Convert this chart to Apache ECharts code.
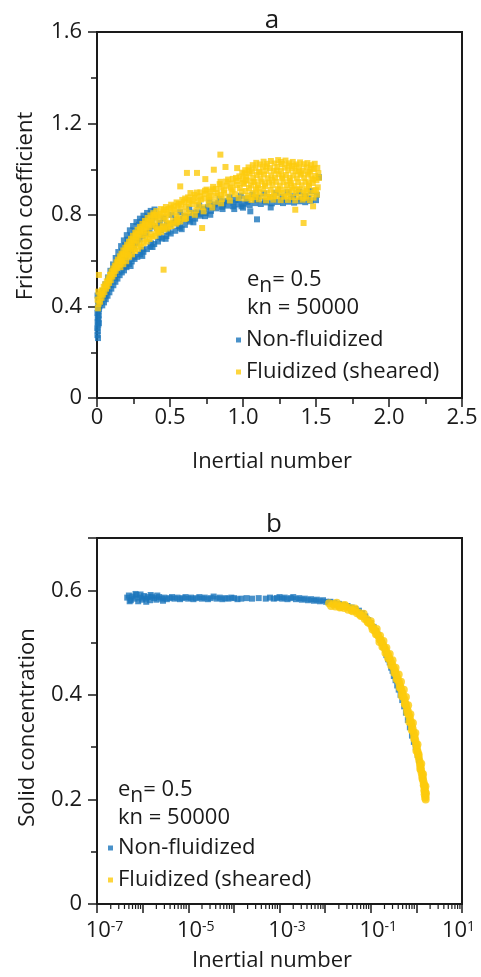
<!DOCTYPE html>
<html>
<head>
<meta charset="utf-8">
<script src="https://cdn.jsdelivr.net/npm/echarts@6/dist/echarts.min.js"></script>
<style>
html,body{margin:0;padding:0;background:#fff;}
#c{width:481px;height:977px;}
</style>
</head>
<body>
<div id="c"></div>
<script>
// ---------------- data ----------------
const seriesNames = ['Non-fluidized', 'Fluidized (sheared)'];
const seriesColors = ['#1b75bc', '#fccb0c'];

// panel a tick values
const frictionXTicks = [0, 0.5, 1.0, 1.5, 2.0, 2.5];
const frictionYTicks = [0, 0.4, 0.8, 1.2, 1.6];
// panel b tick values
const concYTicks = [0, 0.2, 0.4, 0.6];
const concXLabelExponents = [-7, -5, -3, -1, 1];
const minorLogTicks = [
  2e-7,3e-7,4e-7,5e-7,6e-7,7e-7,8e-7,9e-7,
  2e-6,3e-6,4e-6,5e-6,6e-6,7e-6,8e-6,9e-6,
  2e-5,3e-5,4e-5,5e-5,6e-5,7e-5,8e-5,9e-5,
  2e-4,3e-4,4e-4,5e-4,6e-4,7e-4,8e-4,9e-4,
  2e-3,3e-3,4e-3,5e-3,6e-3,7e-3,8e-3,9e-3,
  0.02,0.03,0.04,0.05,0.06,0.07,0.08,0.09,
  0.2,0.3,0.4,0.5,0.6,0.7,0.8,0.9,
  2,3,4,5,6,7,8,9
];

// panel a: friction coefficient vs inertial number
const frictionNonFluidized = [
  [0.003,0.275],[0.006,0.292],[0.002,0.305],[0.008,0.318],[0.004,0.331],[0.010,0.344],[0.005,0.352],[0.012,0.361],
  [0.003,0.372],[0.009,0.379],[0.014,0.388],[0.006,0.395],[0.017,0.401],[0.011,0.409],[0.021,0.415],[0.008,0.423],
  [0.025,0.428],[0.015,0.436],[0.030,0.442],[0.019,0.451],[0.004,0.448],[0.013,0.327],[0.007,0.262],
  [0.036,0.405],[0.048,0.418],[0.060,0.432],[0.072,0.447],[0.085,0.462],[0.098,0.478],[0.112,0.493],[0.126,0.508],
  [0.140,0.522],[0.155,0.537],[0.170,0.549],[0.185,0.558],[0.202,0.572],[0.220,0.586],[0.238,0.597],[0.257,0.608],
  [0.276,0.617],[0.296,0.628],[0.318,0.639],[0.342,0.651],[0.366,0.662],[0.392,0.673],[0.418,0.684],[0.446,0.697],
  [0.475,0.708],[0.505,0.719],[0.536,0.731],[0.568,0.744],[0.602,0.757],[0.637,0.771],[0.672,0.784],[0.708,0.797],
  [0.744,0.808],[0.781,0.818],[0.818,0.829],[0.856,0.836],[0.894,0.841],[0.932,0.838],[0.970,0.846],[1.008,0.849],
  [1.046,0.843],[1.084,0.852],[1.122,0.848],[1.160,0.855],[1.198,0.851],[1.236,0.857],[1.274,0.852],[1.312,0.858],
  [1.350,0.854],[1.388,0.860],[1.426,0.856],[1.464,0.862],[1.500,0.865],
  [1.096,0.781],[1.050,0.816],[0.776,0.801],[0.940,0.826],[1.190,0.833],[1.000,0.832],
  [0.042,0.468],[0.058,0.497],[0.075,0.527],[0.092,0.556],[0.110,0.584],[0.128,0.612],[0.146,0.638],[0.165,0.664],
  [0.184,0.689],[0.204,0.712],[0.225,0.733],[0.247,0.752],[0.270,0.769],[0.294,0.784],[0.318,0.797],[0.343,0.809],
  [0.368,0.818],[0.394,0.824],
  [0.060,0.460],[0.080,0.490],[0.100,0.523],[0.118,0.545],[0.135,0.570],[0.152,0.595],[0.168,0.613],[0.186,0.632],
  [0.205,0.651],[0.224,0.672],[0.244,0.690],[0.262,0.706],[0.282,0.726],[0.304,0.742],[0.326,0.755],[0.350,0.768],
  [0.374,0.778],[0.400,0.790],[0.430,0.765],[0.455,0.786],[0.480,0.760],[0.510,0.801],[0.540,0.779],[0.570,0.812],
  [0.600,0.796],[0.632,0.826],[0.665,0.810],[0.700,0.842],[0.735,0.827],[0.770,0.858],[0.805,0.846],[0.840,0.871],
  [0.875,0.860],[0.910,0.878],[0.948,0.866],[0.985,0.884],[1.025,0.872],[1.065,0.889],[1.105,0.876],[1.145,0.894],
  [1.185,0.878],[1.225,0.897],[1.265,0.880],[1.305,0.899],[1.345,0.882],[1.385,0.902],[1.425,0.884],[1.465,0.905],
  [1.505,0.888],[1.520,0.965],
  [0.21,0.692],[0.232,0.708],[0.258,0.731],[0.288,0.757],[0.308,0.771],[0.333,0.782],[0.357,0.793],[0.192,0.668],
  [0.171,0.641],[0.149,0.613],[0.131,0.588],[0.109,0.561],
  [0.052,0.445],[0.068,0.472],[0.088,0.505],[0.104,0.538],[0.122,0.531],[0.139,0.552],[0.158,0.573],[0.177,0.592],
  [0.196,0.611],[0.214,0.628],[0.233,0.645],[0.252,0.662],[0.272,0.678],[0.292,0.693],[0.313,0.709],[0.336,0.722],
  [0.36,0.738],[0.385,0.751],[0.41,0.743],[0.44,0.733],[0.47,0.747],[0.50,0.758],[0.53,0.766],[0.56,0.775],
  [0.59,0.783],[0.62,0.792],[0.655,0.797],[0.69,0.812],[0.725,0.818],[0.76,0.834],[0.795,0.835],[0.83,0.852],
  [0.865,0.848],[0.90,0.861],[0.935,0.853],[0.97,0.867],[1.03,0.858],[1.09,0.866],[1.15,0.862],[1.21,0.869],
  [1.27,0.866],[1.33,0.871],[1.40,0.869],[1.45,0.874],
  [0.23,0.577],[0.31,0.621],[0.38,0.660],[0.47,0.696],[0.58,0.738],[0.66,0.768],[0.74,0.795],[0.86,0.826],[0.99,0.838],
  [0.19,0.577],[0.25,0.618],[0.31,0.648],[0.37,0.676],[0.43,0.703],[0.49,0.727],[0.56,0.752],[0.63,0.780],[0.70,0.805]
];

const frictionFluidized = [
  [0.006,0.392],[0.011,0.412],[0.004,0.430],[0.016,0.448],[0.009,0.465],[0.021,0.421],[0.026,0.457],[0.013,0.538],
  [0.031,0.438],[0.035,0.471],[0.040,0.452],[0.046,0.486],[0.051,0.463],[0.056,0.497],[0.062,0.478],[0.067,0.510],
  [0.072,0.489],[0.078,0.524],[0.083,0.503],[0.089,0.538],[0.094,0.515],[0.100,0.553],[0.105,0.531],[0.111,0.566],
  [0.116,0.542],[0.122,0.579],[0.127,0.556],[0.133,0.593],[0.138,0.568],[0.144,0.605],[0.150,0.581],[0.156,0.619],
  [0.162,0.592],[0.168,0.631],[0.174,0.604],[0.180,0.645],[0.186,0.615],[0.193,0.657],[0.199,0.629],[0.206,0.670],
  [0.212,0.640],[0.219,0.683],[0.226,0.652],[0.233,0.696],[0.240,0.663],[0.247,0.709],[0.254,0.675],[0.262,0.722],
  [0.270,0.688],[0.278,0.735],[0.286,0.700],[0.294,0.748],[0.302,0.712],[0.311,0.761],[0.320,0.724],[0.329,0.774],
  [0.338,0.735],[0.347,0.787],[0.356,0.746],[0.366,0.798],[0.376,0.757],[0.386,0.808],[0.396,0.768],[0.406,0.817],
  [0.417,0.741],[0.428,0.779],[0.439,0.826],[0.450,0.752],[0.461,0.790],[0.472,0.835],[0.484,0.763],[0.496,0.801],
  [0.508,0.845],[0.520,0.774],[0.532,0.812],[0.545,0.855],[0.558,0.786],[0.571,0.824],[0.584,0.866],[0.597,0.797],
  [0.610,0.836],[0.624,0.877],[0.638,0.809],[0.652,0.848],[0.666,0.888],[0.680,0.821],[0.694,0.860],[0.708,0.899],
  [0.722,0.834],[0.736,0.872],[0.750,0.911],[0.765,0.846],[0.780,0.884],[0.795,0.923],[0.810,0.858],[0.825,0.896],
  [0.840,0.935],[0.855,0.870],[0.870,0.908],[0.885,0.946],[0.900,0.880],[0.915,0.920],[0.930,0.958],[0.945,0.891],
  [0.960,0.931],[0.975,0.969],[0.990,0.902],[1.000,0.941],[1.010,0.982],
  [0.142,0.585],[0.176,0.625],[0.208,0.655],[0.236,0.680],[0.266,0.705],[0.296,0.729],[0.326,0.752],[0.358,0.770],
  [0.390,0.790],[0.422,0.800],[0.455,0.812],[0.490,0.826],[0.525,0.838],[0.560,0.849],[0.595,0.858],[0.632,0.866],
  [0.668,0.875],[0.705,0.882],[0.742,0.893],[0.778,0.903],[0.815,0.914],[0.852,0.921],[0.888,0.928],[0.925,0.938],
  [0.962,0.949],[0.998,0.958],[0.612,0.815],[0.690,0.842],[0.770,0.866],[0.850,0.888],[0.930,0.912],[0.545,0.795],
  [0.470,0.780],[0.400,0.750],[0.340,0.715],
  [0.064,0.493],[0.082,0.515],[0.097,0.540],[0.114,0.555],[0.130,0.574],[0.147,0.596],[0.163,0.610],[0.181,0.628],
  [0.197,0.642],[0.215,0.661],[0.231,0.671],[0.249,0.690],[0.267,0.715],[0.283,0.718],[0.300,0.740],[0.318,0.742],
  [0.334,0.762],[0.352,0.758],[0.371,0.782],[0.392,0.800],[0.412,0.792],[0.435,0.805],[0.459,0.822],[0.478,0.808],
  [0.503,0.830],[0.528,0.824],[0.552,0.840],[0.578,0.846],[0.604,0.872],[0.628,0.852],[0.657,0.862],[0.684,0.898],
  [0.712,0.868],[0.740,0.906],[0.768,0.878],[0.792,0.912],[0.818,0.884],[0.846,0.945],[0.872,0.896],[0.898,0.955],
  [0.922,0.902],[0.952,0.962],[0.978,0.918],[0.995,0.985],
  [0.42,0.735],[0.49,0.748],[0.55,0.768],[0.61,0.786],[0.67,0.801],[0.73,0.816],[0.79,0.833],[0.85,0.851],
  [0.91,0.863],[0.97,0.874],
  [0.16,0.572],[0.18,0.585],[0.20,0.598],[0.22,0.617],[0.24,0.628],[0.26,0.643],[0.28,0.652],[0.30,0.662],
  [0.32,0.676],[0.34,0.684],[0.36,0.695],[0.38,0.705],[0.40,0.709],[0.42,0.722],[0.44,0.726],[0.46,0.737],
  [0.48,0.741],[0.51,0.752],[0.54,0.762],[0.57,0.772],[0.60,0.782],[0.17,0.598],[0.21,0.625],[0.25,0.652],
  [0.29,0.675],[0.33,0.697],[0.37,0.716],[0.41,0.731],[0.45,0.747],[0.50,0.764],[0.55,0.780],
  [0.845,1.064],[0.456,0.561],[0.616,0.984],[0.685,0.984],[0.742,0.957],[0.800,0.998],[1.358,0.823],[1.415,0.765],
  [1.480,0.838],[0.570,0.925],[0.640,0.896],[0.720,0.743],[0.880,1.010],[0.960,1.005],
  [1.012,0.872],[1.018,0.905],[1.008,0.936],[1.022,0.968],[1.015,0.996],
  [1.035,0.884],[1.041,0.918],[1.030,0.951],[1.046,0.982],[1.038,1.008],
  [1.058,0.866],[1.064,0.897],[1.055,0.929],[1.070,0.962],[1.061,0.991],[1.067,1.018],
  [1.083,0.878],[1.089,0.912],[1.078,0.944],[1.094,0.975],[1.085,1.004],[1.091,1.028],
  [1.108,0.868],[1.113,0.899],[1.102,0.931],[1.119,0.958],[1.110,0.989],[1.116,1.021],
  [1.133,0.881],[1.139,0.914],[1.128,0.946],[1.144,0.977],[1.136,1.009],[1.141,1.033],
  [1.158,0.864],[1.164,0.896],[1.152,0.927],[1.169,0.961],[1.160,0.993],[1.166,1.024],
  [1.183,0.879],[1.189,0.910],[1.178,0.942],[1.194,0.973],[1.185,1.005],[1.191,1.036],
  [1.208,0.867],[1.214,0.898],[1.202,0.930],[1.219,0.963],[1.210,0.994],[1.216,1.025],
  [1.233,0.882],[1.239,0.913],[1.228,0.945],[1.244,0.978],[1.236,1.010],[1.241,1.040],
  [1.258,0.865],[1.264,0.897],[1.252,0.929],[1.269,0.960],[1.260,0.992],[1.266,1.023],
  [1.283,0.880],[1.289,0.911],[1.278,0.943],[1.294,0.975],[1.285,1.007],[1.291,1.038],
  [1.308,0.866],[1.314,0.899],[1.302,0.931],[1.319,0.962],[1.310,0.995],[1.316,1.026],
  [1.333,0.878],[1.339,0.909],[1.328,0.941],[1.344,0.973],[1.336,1.004],[1.341,1.032],
  [1.358,0.864],[1.364,0.896],[1.352,0.928],[1.369,0.960],[1.360,0.991],[1.366,1.021],
  [1.383,0.879],[1.389,0.912],[1.378,0.944],[1.394,0.976],[1.385,1.007],[1.391,1.030],
  [1.408,0.867],[1.414,0.898],[1.402,0.930],[1.419,0.961],[1.410,0.993],[1.416,1.022],
  [1.433,0.881],[1.439,0.913],[1.428,0.945],[1.444,0.977],[1.436,1.008],[1.441,1.027],
  [1.458,0.865],[1.464,0.897],[1.452,0.929],[1.469,0.960],[1.460,0.990],[1.466,1.018],
  [1.483,0.876],[1.489,0.908],[1.478,0.940],[1.494,0.971],[1.485,1.001],[1.491,1.024],
  [1.506,0.889],[1.512,0.921],[1.503,0.952],[1.516,0.983],[1.509,1.006],
  [1.02,0.952],[1.05,0.874],[1.07,0.946],[1.10,0.918],[1.12,0.985],[1.15,0.938],[1.17,0.878],[1.20,0.952],
  [1.23,0.994],[1.25,0.908],[1.27,0.968],[1.30,0.884],[1.32,0.949],[1.35,1.014],[1.37,0.912],[1.40,0.982],
  [1.42,0.874],[1.45,0.938],[1.47,1.003],[1.50,0.908],[1.52,0.962],[1.16,1.012],[1.26,1.032],[1.31,1.016],
  [1.45,0.985],[1.04,0.995],[1.09,0.890],[1.21,0.882],[1.33,0.920],[1.38,0.990],[1.43,0.905],[1.48,0.955]
];

// panel b: solid concentration vs inertial number (log x)
const concNonFluidized = [
  [4.6e-7,0.586],[5.0e-7,0.590],[5.5e-7,0.581],[6.0e-7,0.588],[6.6e-7,0.584],[7.3e-7,0.591],[8.0e-7,0.579],
  [8.8e-7,0.586],[9.7e-7,0.582],[1.07e-6,0.589],[1.18e-6,0.584],[1.3e-6,0.587],[1.45e-6,0.581],[1.6e-6,0.588],
  [1.8e-6,0.585],[2.0e-6,0.582],[2.3e-6,0.587],[2.6e-6,0.584],[3.0e-6,0.586],[3.4e-6,0.583],[3.9e-6,0.585],
  [4.4e-6,0.587],[5.0e-6,0.584],[5.8e-6,0.586],[6.6e-6,0.583],[7.5e-6,0.585],[8.7e-6,0.587],[1.0e-5,0.584],
  [1.15e-5,0.586],[1.3e-5,0.583],[1.5e-5,0.585],[1.75e-5,0.587],[2.0e-5,0.584],[2.3e-5,0.586],[2.7e-5,0.583],
  [3.1e-5,0.585],[3.6e-5,0.588],[4.2e-5,0.584],[4.9e-5,0.586],[5.6e-5,0.583],[6.5e-5,0.585],[7.6e-5,0.584],
  [8.8e-5,0.586],[1.02e-4,0.585],[1.2e-4,0.583],[1.45e-4,0.584],[1.9e-4,0.585],[2.5e-4,0.584],[3.5e-4,0.585],
  [5.0e-4,0.584],[6.2e-4,0.586],[7.5e-4,0.584],[8.8e-4,0.585],[1.0e-3,0.587],[1.15e-3,0.584],[1.3e-3,0.586],
  [1.5e-3,0.583],[1.75e-3,0.585],[2.0e-3,0.587],[2.3e-3,0.583],[2.7e-3,0.585],[3.1e-3,0.582],[3.6e-3,0.584],
  [4.2e-3,0.581],[4.9e-3,0.583],[5.7e-3,0.580],[6.6e-3,0.582],[7.7e-3,0.579],[9.0e-3,0.581],[1.05e-2,0.578],
  [1.2e-2,0.577],
  [5.2e-7,0.579],[7.0e-7,0.593],[9.0e-7,0.592],[1.2e-6,0.578],[1.5e-6,0.591],[2.1e-6,0.590],[2.8e-6,0.580],
  [0.013,0.578],[0.016,0.576],[0.020,0.574],[0.025,0.572],[0.031,0.570],[0.038,0.567],[0.046,0.564],[0.055,0.561],
  [0.065,0.556],[0.076,0.550],[0.088,0.543],[0.10,0.537],[0.115,0.530],[0.13,0.522],[0.145,0.515],[0.16,0.506],
  [0.175,0.500],[0.19,0.492],[0.205,0.487],[0.22,0.476],[0.24,0.468],[0.26,0.462],[0.28,0.452],[0.30,0.446],
  [0.32,0.436],[0.35,0.428],[0.38,0.418],[0.41,0.410],[0.45,0.400],[0.49,0.390],[0.54,0.378],[0.59,0.366],
  [0.65,0.352],[0.72,0.338],[0.80,0.322],[0.88,0.310],[0.97,0.300],[1.07,0.285],[1.15,0.275]
];

const concFluidized = [
  [0.0122,0.575],[0.0135,0.570],[0.015,0.574],[0.0168,0.569],[0.0188,0.572],[0.021,0.567],[0.0235,0.571],[0.026,0.566],
  [0.029,0.569],[0.032,0.563],[0.036,0.566],[0.040,0.560],[0.045,0.562],[0.050,0.556],[0.055,0.557],[0.061,0.551],
  [0.067,0.551],[0.074,0.545],[0.081,0.545],[0.089,0.538],[0.097,0.537],[0.105,0.531],[0.112,0.529],[0.120,0.523],
  [0.128,0.522],[0.137,0.516],[0.146,0.513],[0.155,0.507],[0.165,0.505],[0.176,0.499],[0.187,0.495],[0.199,0.490],
  [0.212,0.486],[0.225,0.480],[0.240,0.476],[0.255,0.470],[0.270,0.465],[0.287,0.460],[0.304,0.455],[0.322,0.450],
  [0.340,0.445],[0.36,0.440],[0.38,0.433],[0.40,0.428],[0.42,0.423],[0.44,0.417],[0.46,0.412],[0.48,0.406],
  [0.50,0.402],[0.52,0.396],[0.55,0.391],[0.57,0.384],[0.60,0.380],[0.62,0.373],[0.65,0.369],[0.68,0.362],
  [0.71,0.357],[0.74,0.351],[0.77,0.346],[0.80,0.340],[0.83,0.335],[0.86,0.329],[0.89,0.323],[0.92,0.318],
  [0.95,0.312],[0.98,0.306],[1.01,0.301],[1.04,0.295],[1.07,0.290],[1.10,0.284],[1.13,0.279],[1.17,0.273],
  [1.20,0.267],[1.24,0.262],[1.27,0.256],[1.31,0.250],[1.35,0.245],[1.39,0.239],[1.43,0.234],[1.47,0.229],
  [1.51,0.224],[1.54,0.218],[1.57,0.212],[1.59,0.206],[1.60,0.200],[1.56,0.203],[1.52,0.210],[1.62,0.212],
  [1.49,0.217],[1.58,0.225],[1.45,0.227],[1.36,0.240],[1.40,0.248],[1.22,0.258],[1.28,0.268],[1.12,0.286],
  [1.00,0.293],[1.06,0.305],[0.90,0.316],[0.95,0.327],[0.79,0.333],[0.84,0.346],[0.70,0.348],[0.74,0.363],
  [0.63,0.366],[0.66,0.380],[0.56,0.382],[0.59,0.396],[0.48,0.398],[0.53,0.410],[0.43,0.414],[0.46,0.425],
  [0.37,0.430],[0.41,0.439],[0.33,0.442],[0.35,0.452],[0.28,0.456],[0.30,0.466],[0.24,0.470],[0.26,0.478],
  [0.21,0.480],[0.22,0.490],[0.18,0.492],[0.19,0.503],[0.155,0.501],[0.16,0.513],[0.13,0.516],[0.135,0.526],
  [0.11,0.525],[0.10,0.541],[0.085,0.540],[0.07,0.555],[0.058,0.553],[0.045,0.565],[0.038,0.562],[0.027,0.572],
  [0.022,0.568],[0.018,0.576]
];

// ---------------- chart ----------------
const FONT = '"Open Sans", "Noto Sans", sans-serif';
const INK = '#1a1a1a';
const chart = echarts.init(document.getElementById('c'), null, {renderer: 'canvas'});

function fmtLinear(ticks) {
  return function (v) {
    for (const t of ticks) {
      if (Math.abs(v - t) < 1e-9) return t === 0 ? '0' : t.toFixed(1);
    }
    return '';
  };
}
function fmtLog(v) {
  const e = Math.round(Math.log10(v));
  if (concXLabelExponents.indexOf(e) < 0) return '';
  if (e === concXLabelExponents[concXLabelExponents.length - 1]) {
    return '{m|10}{s|' + e + '}{q| }';
  }
  return '{p| }{m|10}{s|' + e + '}';
}

const axisLineStyle = {color: INK, width: 2};
const tickLineStyle = {color: INK, width: 1.5};
const TICK_FS = 22;

const option = {
  animation: false,
  backgroundColor: '#ffffff',
  textStyle: {fontFamily: FONT, color: INK},
  grid: [
    {left: 97, top: 32, right: 19, height: 366, show: true, borderColor: INK, borderWidth: 2,
     backgroundColor: 'transparent', outerBoundsMode: 'none', containLabel: false},
    {left: 97, top: 538, right: 19, height: 366, show: true, borderColor: INK, borderWidth: 2,
     backgroundColor: 'transparent', outerBoundsMode: 'none', containLabel: false}
  ],
  xAxis: [
    {
      type: 'value', gridIndex: 0, min: 0, max: 2.5, interval: 0.5,
      axisLine: {show: true, onZero: false, lineStyle: axisLineStyle},
      axisTick: {show: true, length: 9, lineStyle: tickLineStyle},
      minorTick: {show: true, splitNumber: 2, length: 6, lineStyle: tickLineStyle},
      splitLine: {show: false}, minorSplitLine: {show: false},
      axisLabel: {fontSize: TICK_FS, color: INK, fontFamily: FONT, margin: 9, formatter: fmtLinear(frictionXTicks)},
      name: 'Inertial number', nameLocation: 'middle', nameGap: 53,
      nameTextStyle: {fontSize: 22, color: INK, fontFamily: FONT, padding: [0, 15, 0, 0]}
    },
    {
      type: 'log', logBase: 10, gridIndex: 1, min: 1e-7, max: 10, splitNumber: 8,
      axisLine: {show: true, onZero: false, lineStyle: axisLineStyle},
      axisTick: {show: true, length: 9, lineStyle: tickLineStyle},
      minorTick: {show: false},
      splitLine: {show: false}, minorSplitLine: {show: false},
      axisLabel: {
        margin: 16, formatter: fmtLog, hideOverlap: false,
        rich: {
          m: {fontSize: 22, color: INK, fontFamily: FONT, lineHeight: 30, verticalAlign: 'top'},
          s: {fontSize: 14, color: INK, fontFamily: FONT, lineHeight: 12, verticalAlign: 'top'},
          p: {fontSize: 14, width: 15, lineHeight: 12, verticalAlign: 'top'},
          q: {fontSize: 14, width: 7, lineHeight: 12, verticalAlign: 'top'}
        }
      },
      name: 'Inertial number', nameLocation: 'middle', nameGap: 46,
      nameTextStyle: {fontSize: 22, color: INK, fontFamily: FONT, padding: [0, 15, 0, 0]}
    }
  ],
  yAxis: [
    {
      type: 'value', gridIndex: 0, min: 0, max: 1.6, interval: 0.4,
      axisLine: {show: true, onZero: false, lineStyle: axisLineStyle},
      axisTick: {show: true, length: 9, lineStyle: tickLineStyle},
      minorTick: {show: true, splitNumber: 2, length: 6, lineStyle: tickLineStyle},
      splitLine: {show: false}, minorSplitLine: {show: false},
      axisLabel: {fontSize: TICK_FS, color: INK, fontFamily: FONT, margin: 15, formatter: fmtLinear(frictionYTicks)},
      name: 'Friction coefficient', nameLocation: 'middle', nameGap: 60,
      nameTextStyle: {fontSize: 22, color: INK, fontFamily: FONT, padding: [0, 0, 0, 18]}
    },
    {
      type: 'value', gridIndex: 1, min: 0, max: 0.7, interval: 0.2,
      axisLine: {show: true, onZero: false, lineStyle: axisLineStyle},
      axisTick: {show: true, length: 9, lineStyle: tickLineStyle},
      minorTick: {show: true, splitNumber: 2, length: 6, lineStyle: tickLineStyle},
      splitLine: {show: false}, minorSplitLine: {show: false},
      axisLabel: {fontSize: TICK_FS, color: INK, fontFamily: FONT, margin: 15, showMaxLabel: false,
                  formatter: fmtLinear(concYTicks)},
      name: 'Solid concentration', nameLocation: 'middle', nameGap: 58,
      nameTextStyle: {fontSize: 22, color: INK, fontFamily: FONT, padding: [0, 13, 0, 0]}
    }
  ],
  legend: [
    {data: seriesNames, orient: 'vertical', left: 236, top: 329, itemWidth: 5, itemHeight: 5, itemGap: 10,
     icon: 'rect', selectedMode: false, padding: 0,
     textStyle: {fontSize: 22, color: INK, fontFamily: FONT}},
    {data: seriesNames, orient: 'vertical', left: 108, top: 837, itemWidth: 5, itemHeight: 5, itemGap: 10,
     icon: 'rect', selectedMode: false, padding: 0,
     textStyle: {fontSize: 22, color: INK, fontFamily: FONT}}
  ],
  graphic: [
    {type: 'text', x: 272, y: 21, silent: true,
     style: {text: 'a', fontSize: 26, fontFamily: FONT, fill: INK, align: 'center', verticalAlign: 'middle'}},
    {type: 'text', x: 274, y: 525, silent: true,
     style: {text: 'b', fontSize: 26, fontFamily: FONT, fill: INK, align: 'center', verticalAlign: 'middle'}},
    {type: 'text', x: 247, y: 269, silent: true,
     style: {text: '{e|e}{n|n}{e|= 0.5}', fill: INK,
       rich: {e: {fontSize: 22, fontFamily: FONT, fill: INK, lineHeight: 24, verticalAlign: 'top'},
              n: {fontSize: 21, fontFamily: FONT, fill: INK, lineHeight: 24, verticalAlign: 'top', padding: [7, 0, 0, 0]}}}},
    {type: 'text', x: 247, y: 296, silent: true,
     style: {text: 'kn = 50000', fontSize: 22, fontFamily: FONT, fill: INK, lineHeight: 24}},
    {type: 'text', x: 118, y: 779, silent: true,
     style: {text: '{e|e}{n|n}{e|= 0.5}', fill: INK,
       rich: {e: {fontSize: 22, fontFamily: FONT, fill: INK, lineHeight: 24, verticalAlign: 'top'},
              n: {fontSize: 21, fontFamily: FONT, fill: INK, lineHeight: 24, verticalAlign: 'top', padding: [7, 0, 0, 0]}}}},
    {type: 'text', x: 118, y: 806, silent: true,
     style: {text: 'kn = 50000', fontSize: 22, fontFamily: FONT, fill: INK, lineHeight: 24}}
  ],
  series: [
    {name: seriesNames[0], type: 'scatter', xAxisIndex: 0, yAxisIndex: 0, data: frictionNonFluidized,
     symbol: 'rect', symbolSize: 6, itemStyle: {color: seriesColors[0]}, silent: true},
    {name: seriesNames[1], type: 'scatter', xAxisIndex: 0, yAxisIndex: 0, data: frictionFluidized,
     symbol: 'rect', symbolSize: 6, itemStyle: {color: seriesColors[1]}, silent: true},
    {name: seriesNames[0], type: 'scatter', xAxisIndex: 1, yAxisIndex: 1, data: concNonFluidized,
     symbol: 'rect', symbolSize: 6, itemStyle: {color: seriesColors[0]}, silent: true},
    {name: seriesNames[1], type: 'scatter', xAxisIndex: 1, yAxisIndex: 1, data: concFluidized,
     symbol: 'circle', symbolSize: 8, itemStyle: {color: seriesColors[1]}, silent: true},
    {name: 'minorLogTicks', type: 'custom', xAxisIndex: 1, yAxisIndex: 1, silent: true, clip: false, z: 10,
     data: minorLogTicks.map(function (v) { return [v, 0]; }),
     renderItem: function (params, api) {
       const p = api.coord([api.value(0), 0]);
       return {type: 'line', shape: {x1: p[0], y1: p[1], x2: p[0], y2: p[1] + 5},
               style: {stroke: INK, lineWidth: 1.2}};
     }}
  ]
};
chart.setOption(option);
</script>
</body>
</html>
